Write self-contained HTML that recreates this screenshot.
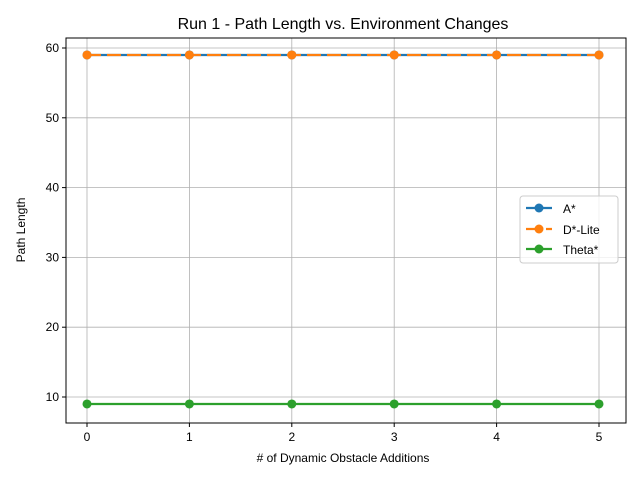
<!DOCTYPE html>
<html><head><meta charset="utf-8"><style>
body{margin:0;background:#fff;}
svg{font-family:"Liberation Sans","DejaVu Sans",sans-serif;}
</style></head><body>
<svg id="chart" width="640" height="480" xmlns="http://www.w3.org/2000/svg">
<rect width="640" height="480" fill="#fff"/>
<text x="343" y="29" font-size="16" text-anchor="middle">Run 1 - Path Length vs. Environment Changes</text>
<g id="grid"></g>
<g id="series"></g>
<rect x="66" y="38" width="560" height="385" fill="none" stroke="#000" stroke-width="1"/>
<g id="axes" font-size="12"></g>
<text x="343" y="462" font-size="12" text-anchor="middle"># of Dynamic Obstacle Additions</text>
<text transform="translate(25,230) rotate(-90)" font-size="12" text-anchor="middle">Path Length</text>
<g>
<rect x="520" y="196" width="98" height="67" rx="3" fill="#fff" fill-opacity="0.8" stroke="#ccc"/>
<line x1="526" y1="208" x2="552" y2="208" stroke="#1f77b4" stroke-width="2.2"/><circle cx="539" cy="208" r="4.5" fill="#1f77b4"/>
<text x="563" y="213" font-size="12">A*</text>
<line x1="526" y1="229" x2="552" y2="229" stroke="#ff7f0e" stroke-width="2.2" stroke-dasharray="14,6"/><circle cx="539" cy="229" r="4.5" fill="#ff7f0e"/>
<text x="563" y="234" font-size="12">D*-Lite</text>
<line x1="526" y1="249" x2="552" y2="249" stroke="#2ca02c" stroke-width="2.2"/><circle cx="539" cy="249" r="4.5" fill="#2ca02c"/>
<text x="563" y="254" font-size="12">Theta*</text>
</g>
</svg>
<script>
const categories=[0,1,2,3,4,5];
const astar=[59,59,59,59,59,59];
const dstar=[59,59,59,59,59,59];
const theta=[9,9,9,9,9,9];
const yTicks=[10,20,30,40,50,60];
const NS="http://www.w3.org/2000/svg";
const xS=v=>87+v*102.4;
const yS=v=>397-(v-10)*6.98;
function mk(t,a,p){const e=document.createElementNS(NS,t);for(const k in a)e.setAttribute(k,a[k]);p.appendChild(e);return e;}
const grid=document.getElementById('grid'),axes=document.getElementById('axes'),ser=document.getElementById('series');
categories.forEach(c=>{
 const g=mk('line',{x1:xS(c),x2:xS(c),y1:38,y2:423,stroke:'#b0b0b0','stroke-width':0.8},grid);
 
 
 mk('line',{x1:xS(c),x2:xS(c),y1:423,y2:427,stroke:'#000'},axes);
 const t=mk('text',{x:xS(c),y:441,'text-anchor':'middle'},axes);t.textContent=c;
 
 
});
yTicks.forEach(v=>{
 const g=mk('line',{x1:66,x2:626,y1:yS(v),y2:yS(v),stroke:'#b0b0b0','stroke-width':0.8},grid);
 
 
 mk('line',{x1:62,x2:66,y1:yS(v),y2:yS(v),stroke:'#000'},axes);
 const t=mk('text',{x:59,y:yS(v)+4,'text-anchor':'end'},axes);t.textContent=v;
 
 
});
function draw(vals,color,dash,name){
 const pts=vals.map((v,i)=>xS(categories[i])+','+yS(v)).join(' ');
 const l=mk('polyline',{points:pts,fill:'none',stroke:color,'stroke-width':2.2},ser);
 if(dash)l.setAttribute('stroke-dasharray',dash);
 
 
 vals.forEach((v,i)=>{const c=mk('circle',{cx:xS(categories[i]),cy:yS(v),r:4.5,fill:color},ser);
  
  });
}
draw(astar,'#1f77b4',null,'astar');
draw(dstar,'#ff7f0e','14,6','dstar-lite');
draw(theta,'#2ca02c',null,'thetastar');
</script>
</body></html>
